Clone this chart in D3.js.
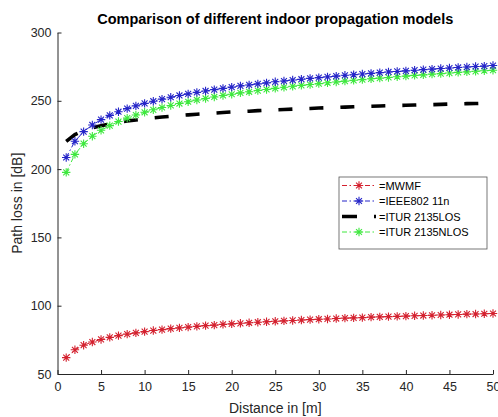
<!DOCTYPE html>
<html>
<head>
<meta charset="utf-8">
<script src="https://cdn.jsdelivr.net/npm/d3@7"></script>
<style>
  html, body { margin: 0; padding: 0; background: #fff; overflow: hidden; }
  svg { display: block; font-family: "Liberation Sans", Arial, sans-serif; }
</style>
</head>
<body>
<svg id="chart" width="498" height="417"></svg>
<script>
// distance in metres
const distance = d3.range(1, 51);

const mwmf = [62.0, 67.7, 71.1, 73.4, 75.3, 76.8, 78.1, 79.2, 80.1, 81.0,
  81.8, 82.5, 83.2, 83.8, 84.3, 84.9, 85.4, 85.8, 86.3, 86.7,
  87.1, 87.5, 87.9, 88.2, 88.6, 88.9, 89.2, 89.5, 89.8, 90.1,
  90.3, 90.6, 90.9, 91.1, 91.3, 91.6, 91.8, 92.0, 92.2, 92.4,
  92.6, 92.8, 93.0, 93.2, 93.4, 93.6, 93.8, 93.9, 94.1, 94.3];

const ieee = [208.5, 220.4, 227.4, 232.3, 236.2, 239.3, 242.0, 244.3, 246.3, 248.1,
  249.7, 251.2, 252.6, 253.9, 255.1, 256.2, 257.2, 258.2, 259.1, 260.0,
  260.9, 261.6, 262.4, 263.1, 263.9, 264.5, 265.2, 265.8, 266.4, 267.0,
  267.5, 268.1, 268.7, 269.1, 269.6, 270.1, 270.6, 271.1, 271.5, 271.9,
  272.4, 272.8, 273.2, 273.6, 274.0, 274.4, 274.7, 275.1, 275.4, 275.8];

const iturLos = [220.3, 225.3, 228.2, 230.2, 231.8, 233.1, 234.2, 235.2, 236.0, 236.8,
  237.5, 238.1, 238.7, 239.2, 239.7, 240.2, 240.6, 241.0, 241.4, 241.8,
  242.1, 242.4, 242.8, 243.1, 243.4, 243.6, 243.9, 244.2, 244.4, 244.7,
  244.9, 245.1, 245.4, 245.6, 245.8, 246.0, 246.2, 246.4, 246.6, 246.7,
  246.9, 247.1, 247.2, 247.4, 247.6, 247.7, 247.9, 248.0, 248.2, 248.3];

const iturNlos = [197.6, 210.8, 218.6, 224.1, 228.4, 231.8, 234.8, 237.3, 239.6, 241.6,
  243.4, 245.1, 246.6, 248.0, 249.3, 250.6, 251.7, 252.8, 253.9, 254.8,
  255.8, 256.6, 257.5, 258.3, 259.1, 259.9, 260.6, 261.3, 261.9, 262.6,
  263.2, 263.8, 264.4, 265.0, 265.5, 266.1, 266.6, 267.1, 267.6, 268.1,
  268.6, 269.0, 269.5, 269.9, 270.3, 270.8, 271.2, 271.6, 272.0, 272.4];

const xTicks = [0, 5, 10, 15, 20, 25, 30, 35, 40, 45, 50];
const yTicks = [50, 100, 150, 200, 250, 300];

const seriesNames = ['=MWMF', '=IEEE802 11n', '=ITUR 2135LOS', '=ITUR 2135NLOS'];

const series = [
  { name: seriesNames[0], values: mwmf, color: '#d4202e', width: 1, dash: '5,2.5,1.5,2.5', marker: true },
  { name: seriesNames[1], values: ieee, color: '#2424c8', width: 1, dash: '5,2.5,1.5,2.5', marker: true },
  { name: seriesNames[2], values: iturLos, color: '#000000', width: 3.6, dash: '14,17', marker: false },
  { name: seriesNames[3], values: iturNlos, color: '#3ee83e', width: 1, dash: '5,2.5,1.5,2.5', marker: true }
];

const svg = d3.select('#chart');
const margin = { top: 32.5, right: 5, bottom: 43, left: 57.5 };
const width = 498, height = 417;

const x = d3.scaleLinear().domain([0, 50]).range([margin.left, width - margin.right]);
const y = d3.scaleLinear().domain([50, 300]).range([height - margin.bottom, margin.top]);

const axisColor = '#262626';

// axes (ticks inward, like matlab)
const xAxis = svg.append('g')
  .attr('transform', `translate(0,${y(50)})`)
  .call(d3.axisBottom(x).tickValues(xTicks).tickSizeInner(-4).tickSizeOuter(0).tickPadding(8));
const yAxis = svg.append('g')
  .attr('transform', `translate(${x(0)},0)`)
  .call(d3.axisLeft(y).tickValues(yTicks).tickSizeInner(-4).tickSizeOuter(0).tickPadding(6));

[xAxis, yAxis].forEach(g => {
  g.select('.domain').attr('stroke', axisColor).attr('stroke-width', 1);
  g.selectAll('.tick line').attr('stroke', axisColor);
  g.selectAll('.tick text').attr('fill', axisColor).style('font-size', '12.5px')
    .style('font-family', '"Liberation Sans", Arial, sans-serif');
});

// asterisk marker
const star = (g, cx, cy, r, color) => {
  const d = r * 0.7071;
  g.append('path')
    .attr('d', `M${cx - r},${cy}L${cx + r},${cy}M${cx},${cy - r}L${cx},${cy + r}` +
      `M${cx - d},${cy - d}L${cx + d},${cy + d}M${cx - d},${cy + d}L${cx + d},${cy - d}`)
    .attr('stroke', color).attr('stroke-width', 1.1).attr('fill', 'none');
};

const line = d3.line().x((d, i) => x(distance[i])).y(d => y(d));

const plot = svg.append('g');
series.forEach(s => {
  plot.append('path')
    .datum(s.values)
    .attr('d', line)
    .attr('fill', 'none')
    .attr('stroke', s.color)
    .attr('stroke-width', s.width)
    .attr('stroke-dasharray', s.dash);
});
// draw markers after lines, green under blue
[series[0], series[3], series[1]].forEach(s => {
  const mg = plot.append('g');
  s.values.forEach((v, i) => star(mg, x(distance[i]), y(v), 4.2, s.color));
});

// title and labels
svg.append('text')
  .attr('x', (x(0) + x(50)) / 2).attr('y', 24)
  .attr('text-anchor', 'middle')
  .style('font-size', '14.5px').style('font-weight', 'bold')
  .attr('fill', '#000')
  .text('Comparison of different indoor propagation models');

svg.append('text')
  .attr('x', (x(0) + x(50)) / 2).attr('y', 413)
  .attr('text-anchor', 'middle')
  .style('font-size', '14px')
  .attr('fill', axisColor)
  .text('Distance in [m]');

svg.append('text')
  .attr('transform', `translate(22,${(y(50) + y(300)) / 2}) rotate(-90)`)
  .attr('text-anchor', 'middle')
  .style('font-size', '14px')
  .attr('fill', axisColor)
  .text('Path loss in [dB]');

// legend
const lg = svg.append('g').attr('transform', 'translate(339,177)');
lg.append('rect')
  .attr('x', 0).attr('y', 0).attr('width', 148).attr('height', 72)
  .attr('fill', '#fff').attr('stroke', '#555').attr('stroke-width', 0.8);

series.forEach((s, i) => {
  const ly = 8.5 + i * 15.5;
  lg.append('line')
    .attr('x1', 3).attr('x2', 37).attr('y1', ly).attr('y2', ly)
    .attr('stroke', s.color).attr('stroke-width', s.width)
    .attr('stroke-dasharray', s.marker ? s.dash : '15,17');
  if (s.marker) star(lg, 20, ly, 4.2, s.color);
  lg.append('text')
    .attr('x', 40).attr('y', ly + 4)
    .style('font-size', '11px')
    .attr('fill', '#000')
    .text(s.name);
});
</script>
</body>
</html>
